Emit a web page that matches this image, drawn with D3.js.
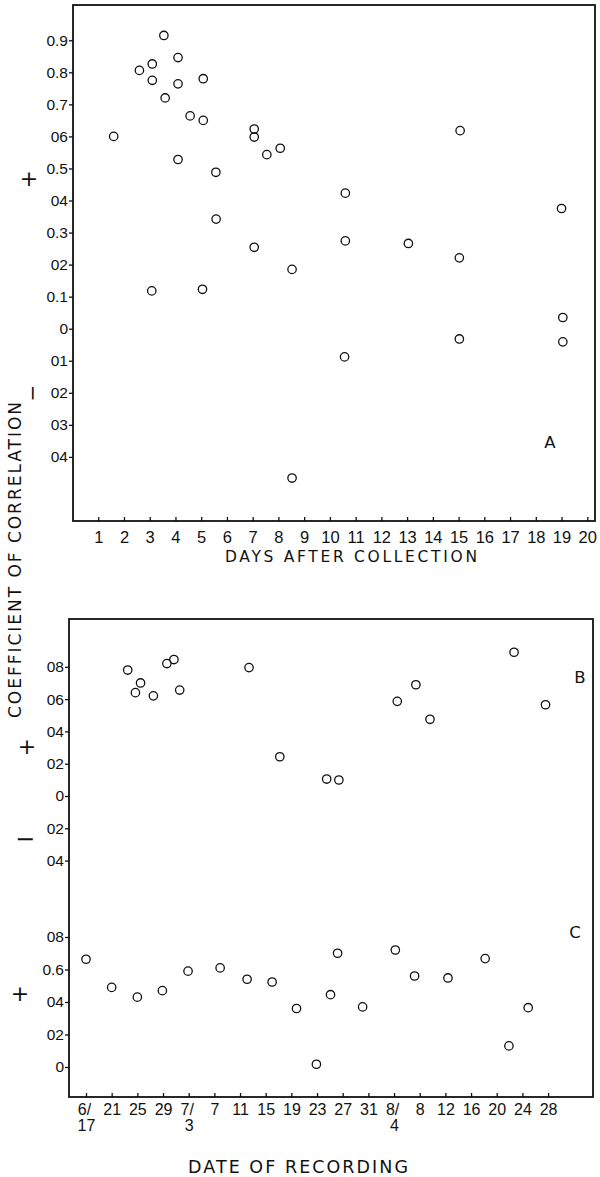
<!DOCTYPE html>
<html><head><meta charset="utf-8">
<script src="https://cdn.jsdelivr.net/npm/d3@7"></script>
<style>
body{margin:0;background:#fff;}
svg{display:block;}
text{fill:#111;}
</style></head>
<body>
<svg id="chart" width="600" height="1177"></svg>
<script>
// ---------- DATA ----------
// Panel A: days after collection vs coefficient of correlation
const daysA = [1.6,2.6,3.1,3.1,3.55,3.6,4.1,4.1,4.1,4.57,5.08,5.08,5.57,5.58,7.06,7.06,7.06,7.55,8.07,8.53,3.08,5.05,8.53,15.06,10.6,10.6,13.05,15.03,19.0,19.05,19.05,15.03,10.57];
const corrA = [0.60,0.806,0.826,0.775,0.915,0.72,0.846,0.764,0.528,0.664,0.78,0.65,0.488,0.342,0.623,0.598,0.254,0.543,0.563,0.185,0.118,0.123,-0.466,0.618,0.423,0.274,0.266,0.221,0.375,0.035,-0.041,-0.032,-0.088];
const xTicksA = [1,2,3,4,5,6,7,8,9,10,11,12,13,14,15,16,17,18,19,20];
const yTicksA = [0.9,0.8,0.7,0.6,0.5,0.4,0.3,0.2,0.1,0,-0.1,-0.2,-0.3,-0.4];
const yLabelsA = ["0.9","0.8","0.7","06","0.5","04","0.3","02","0.1","0","01","02","03","04"];

// Panels B and C: date of recording (days after June 17)
const daysB = [6.5,7.7,8.5,10.5,12.6,13.7,14.6,25.4,30.2,37.5,39.4,48.5,51.4,53.6,66.7,71.6];
const corrB = [0.78,0.64,0.70,0.62,0.82,0.845,0.656,0.795,0.243,0.105,0.099,0.586,0.689,0.475,0.89,0.565];
const daysC = [0,4.0,8.0,11.9,15.9,20.9,25.1,29.0,32.8,35.9,38.1,39.2,43.1,48.2,51.2,56.4,62.2,65.9,68.9];
const corrC = [0.663,0.49,0.43,0.47,0.59,0.61,0.54,0.523,0.36,0.017,0.445,0.70,0.37,0.72,0.56,0.548,0.667,0.13,0.365];
const dateTicks = [0,4,8,12,16,20,24,28,32,36,40,44,48,52,56,60,64,68,72];
const dateLabels = ["6/17","21","25","29","7/3","7","11","15","19","23","27","31","8/4","8","12","16","20","24","28"];
const yTicksB = [0.8,0.6,0.4,0.2,0,-0.2,-0.4];
const yLabelsB = ["08","06","04","02","0","02","04"];
const yTicksC = [0.8,0.6,0.4,0.2,0];
const yLabelsC = ["08","0.6","04","02","0"];

// ---------- LAYOUT ----------
const svg = d3.select("#chart");
const numFont = "'Liberation Sans', Arial, sans-serif";
const txtFont = "'DejaVu Sans', sans-serif";
const ink = "#111";

// Panel A frame
const A = {left:73, right:595, top:5, bottom:521};
const xA = d3.scaleLinear().domain([0,20.3]).range([72.5, A.right]);
const yA = d3.scaleLinear().domain([-0.6,1.01]).range([A.bottom, A.top]);

// Panel B/C frame
const P = {left:69, right:593, top:619, bottom:1097};
const xD = d3.scaleLinear().domain([-2.65,79]).range([P.left, P.right]);
const yB = d3.scaleLinear().domain([0,1]).range([796, 634.5]);
const yC = d3.scaleLinear().domain([0,1]).range([1067, 904.5]);

function frame(f){
  svg.append("rect").attr("x",f.left).attr("y",f.top)
    .attr("width",f.right-f.left).attr("height",f.bottom-f.top)
    .attr("fill","none").attr("stroke",ink).attr("stroke-width",1.8);
}
frame(A); frame(P);

function styleAxis(g, size){
  g.select(".domain").remove();
  g.selectAll(".tick line").attr("stroke",ink).attr("stroke-width",1.3);
  g.selectAll(".tick text").attr("font-family",numFont).attr("font-size",size).attr("fill",ink);
}

// Y axis A
const gyA = svg.append("g").attr("transform",`translate(${A.left},0)`)
  .call(d3.axisLeft(yA).tickValues(yTicksA).tickSize(4).tickPadding(1)
    .tickFormat((d,i)=>yLabelsA[i]));
styleAxis(gyA,15.5);

// X axis A (ticks pointing inward)
const gxA = svg.append("g").attr("transform",`translate(0,${A.bottom})`)
  .call(d3.axisBottom(xA).tickValues(xTicksA).tickSize(-4).tickPadding(10)
    .tickFormat(d3.format("d")));
styleAxis(gxA,16.5);

// points A
svg.append("g").selectAll("circle").data(daysA.map((d,i)=>[d,corrA[i]])).join("circle")
  .attr("cx",d=>xA(d[0])).attr("cy",d=>yA(d[1])).attr("r",4.2)
  .attr("fill","none").attr("stroke",ink).attr("stroke-width",1.3);

// Y axis B
const gyB = svg.append("g").attr("transform",`translate(${P.left},0)`)
  .call(d3.axisLeft(yB).tickValues(yTicksB).tickSize(4).tickPadding(1)
    .tickFormat((d,i)=>yLabelsB[i]));
styleAxis(gyB,15.5);
// Y axis C
const gyC = svg.append("g").attr("transform",`translate(${P.left},0)`)
  .call(d3.axisLeft(yC).tickValues(yTicksC).tickSize(4).tickPadding(1)
    .tickFormat((d,i)=>yLabelsC[i]));
styleAxis(gyC,15.5);

// X axis dates
const gxD = svg.append("g").attr("transform",`translate(0,${P.bottom})`)
  .call(d3.axisBottom(xD).tickValues(dateTicks).tickSize(-4).tickPadding(7)
    .tickFormat((d,i)=>dateLabels[i]));
styleAxis(gxD,16);
gxD.selectAll(".tick text").each(function(d,i){
  const lab = dateLabels[i];
  if(lab.includes("/")){
    const parts = lab.split("/");
    const t = d3.select(this).text(null);
    t.append("tspan").attr("x",-2).text(parts[0]+"/");
    t.append("tspan").attr("x",0).attr("dy","0.95em").text(parts[1]);
  }
});

// points B, C
svg.append("g").selectAll("circle").data(daysB.map((d,i)=>[d,corrB[i]])).join("circle")
  .attr("cx",d=>xD(d[0])).attr("cy",d=>yB(d[1])).attr("r",4.2)
  .attr("fill","none").attr("stroke",ink).attr("stroke-width",1.3);
svg.append("g").selectAll("circle").data(daysC.map((d,i)=>[d,corrC[i]])).join("circle")
  .attr("cx",d=>xD(d[0])).attr("cy",d=>yC(d[1])).attr("r",4.2)
  .attr("fill","none").attr("stroke",ink).attr("stroke-width",1.3);

// ---------- TEXT ----------
function label(x,y,t,size,opts={}){
  const e = svg.append("text").attr("x",x).attr("y",y).text(t)
    .attr("font-family",opts.font||txtFont).attr("font-size",size)
    .attr("text-anchor",opts.anchor||"middle").attr("fill",ink);
  if(opts.len) e.attr("textLength",opts.len).attr("lengthAdjust","spacing");
  if(opts.rot) e.attr("transform",`rotate(${opts.rot},${x},${y})`);
  return e;
}
label(550,448,"A",16.5);
label(580,683,"B",16.5);
label(575,938,"C",16.5);

label(351,562,"DAYS AFTER COLLECTION",15.5,{len:252});
label(298,1173,"DATE OF RECORDING",17.5,{len:220});
label(21,560,"COEFFICIENT OF CORRELATION",17,{len:316,rot:-90});

// sign markers
label(29,186,"+",22);
label(32,393,"−",20,{rot:-90}).attr("dominant-baseline","central");
label(27,754,"+",22);
label(25,847,"−",24);
label(20,1001,"+",22);
</script>
</body></html>
